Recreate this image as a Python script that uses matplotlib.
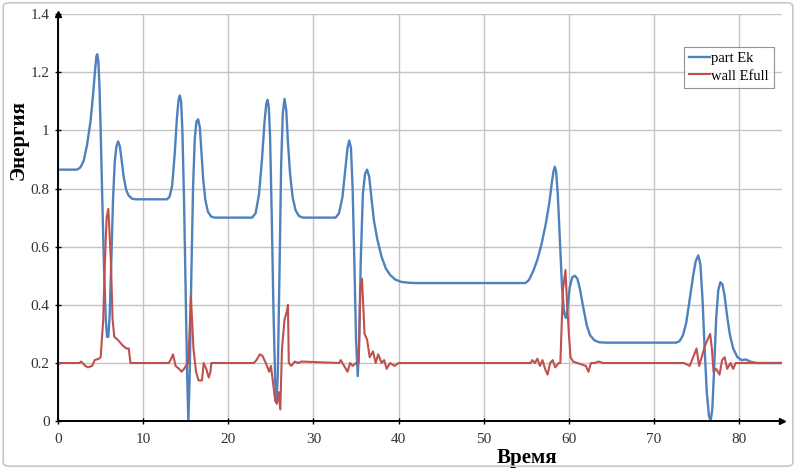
import matplotlib
matplotlib.use("Agg")
import matplotlib.pyplot as plt
from matplotlib.patches import FancyBboxPatch

# part Ek (синяя кривая)
t_part = [0, 2.2, 2.6, 3.0, 3.4, 3.8, 4.1, 4.35, 4.5, 4.6, 4.72, 4.85, 5.0, 5.2, 5.4,
          5.6, 5.75, 5.9, 6.05, 6.25, 6.45, 6.65, 6.85, 7.05, 7.25, 7.45, 7.7, 8.0,
          8.3, 8.7, 9.1,
          12.8, 13.1, 13.4, 13.7, 13.95, 14.15, 14.3, 14.45, 14.6, 14.8, 15.0, 15.15,
          15.3, 15.45, 15.65, 15.85, 16.05, 16.25, 16.45, 16.65, 16.85, 17.05, 17.3,
          17.6, 18.0, 18.4,
          22.8, 23.2, 23.6, 23.95, 24.25, 24.45, 24.6, 24.75, 24.9, 25.1, 25.3, 25.5,
          25.65, 25.8, 26.0, 26.2, 26.4, 26.6, 26.8, 27.0, 27.25, 27.55, 27.9, 28.3,
          28.8,
          32.6, 33.0, 33.4, 33.75, 34.0, 34.2, 34.4, 34.6, 34.8, 35.0, 35.2, 35.35,
          35.55, 35.8, 36.05, 36.3, 36.55, 36.8, 37.1, 37.5, 38.0, 38.5, 39.0, 39.6,
          40.3, 41.2, 42.0,
          54.9, 55.3, 55.8, 56.3, 56.8, 57.3, 57.7, 58.0, 58.2, 58.35, 58.5, 58.7,
          58.95, 59.2, 59.45, 59.65, 59.85, 60.1, 60.4, 60.7, 61.0, 61.3, 61.7, 62.1,
          62.5, 63.0, 63.6, 64.5,
          72.6, 73.0, 73.4, 73.8, 74.2, 74.6, 74.9, 75.2, 75.45, 75.7, 75.95, 76.2,
          76.45, 76.65, 76.85, 77.05, 77.3, 77.55, 77.8, 78.05, 78.3, 78.6, 78.9,
          79.3, 79.8, 80.3, 80.8, 81.3, 82.0, 85.0]
e_part = [0.865, 0.865, 0.872, 0.895, 0.95, 1.03, 1.12, 1.21, 1.255, 1.262, 1.24, 1.16,
          1.0, 0.75, 0.52, 0.35, 0.29, 0.29, 0.36, 0.55, 0.76, 0.89, 0.945, 0.962,
          0.945, 0.90, 0.84, 0.795, 0.775, 0.765, 0.763,
          0.763, 0.772, 0.81, 0.92, 1.04, 1.105, 1.12, 1.10, 1.0, 0.75, 0.42, 0.17,
          0.0, 0.15, 0.5, 0.8, 0.97, 1.03, 1.038, 1.01, 0.92, 0.83, 0.76, 0.72,
          0.703, 0.70,
          0.70, 0.715, 0.78, 0.90, 1.03, 1.09, 1.105, 1.08, 0.98, 0.70, 0.38, 0.14,
          0.07, 0.15, 0.50, 0.88, 1.06, 1.108, 1.07, 0.96, 0.85, 0.77, 0.725, 0.705,
          0.70,
          0.70, 0.715, 0.77, 0.87, 0.94, 0.965, 0.94, 0.80, 0.55, 0.28, 0.155, 0.25,
          0.55, 0.78, 0.85, 0.865, 0.84, 0.77, 0.69, 0.625, 0.565, 0.525, 0.503,
          0.487, 0.479, 0.476, 0.475,
          0.475, 0.485, 0.515, 0.555, 0.61, 0.68, 0.75, 0.82, 0.86, 0.875, 0.86, 0.78,
          0.62, 0.46, 0.37, 0.355, 0.39, 0.46, 0.495, 0.50, 0.49, 0.455, 0.39, 0.33,
          0.295, 0.278, 0.271, 0.27,
          0.27, 0.275, 0.295, 0.34, 0.42, 0.50, 0.55, 0.57, 0.54, 0.42, 0.25, 0.10,
          0.02, 0.0, 0.04, 0.17, 0.35, 0.45, 0.478, 0.47, 0.43, 0.36, 0.30, 0.25,
          0.22, 0.21, 0.212, 0.205, 0.2, 0.2]

# wall Efull (красная кривая)
t_wall = [0, 2.5, 2.7, 3.2, 3.5, 4.0, 4.3, 4.8, 5.0, 5.3, 5.5, 5.7, 5.9, 6.2, 6.4,
          6.6, 7.0, 7.3, 7.6, 8.0, 8.3, 8.5, 13.0, 13.2, 13.5, 13.8, 14.2, 14.5,
          14.8, 15.0, 15.3, 15.6, 15.9, 16.2, 16.5, 16.9, 17.1, 17.4, 17.7, 17.9,
          18.0, 23.0, 23.3, 23.7, 24.0, 24.4, 24.8, 25.0, 25.3, 25.5, 25.7, 25.9,
          26.1, 26.3, 26.6, 26.9, 27.0, 27.1, 27.4, 27.8, 28.2, 28.6, 33.0, 33.2,
          33.6, 34.0, 34.3, 34.6, 35.0, 35.3, 35.5, 35.7, 36.0, 36.3, 36.6, 37.0,
          37.3, 37.6, 38.0, 38.3, 38.6, 39.0, 39.5, 40.0, 55.5, 55.7, 56.0, 56.3,
          56.6, 56.9, 57.2, 57.5, 57.8, 58.1, 58.4, 58.8, 59.0, 59.3, 59.6, 59.8,
          60.0, 60.2, 60.5, 61.0, 61.5, 62.0, 62.3, 62.6, 63.0, 63.5, 64.0, 73.5,
          74.2, 74.6, 75.0, 75.3, 75.6, 76.0, 76.3, 76.6, 76.8, 77.0, 77.3, 77.7,
          78.0, 78.3, 78.6, 79.0, 79.3, 79.6, 80.0, 85.0]
e_wall = [0.2, 0.2, 0.205, 0.19, 0.185, 0.19, 0.21, 0.215, 0.22, 0.35, 0.55, 0.70,
          0.73, 0.55, 0.35, 0.29, 0.28, 0.27, 0.26, 0.25, 0.25, 0.2, 0.2, 0.21, 0.23,
          0.19, 0.18, 0.17, 0.18, 0.19, 0.20, 0.43, 0.25, 0.17, 0.14, 0.14, 0.20,
          0.18, 0.15, 0.17, 0.2, 0.2, 0.21, 0.23, 0.225, 0.20, 0.17, 0.19, 0.12,
          0.07, 0.06, 0.10, 0.04, 0.25, 0.35, 0.38, 0.40, 0.20, 0.19, 0.205, 0.20,
          0.205, 0.2, 0.21, 0.19, 0.17, 0.20, 0.19, 0.20, 0.20, 0.45, 0.49, 0.30,
          0.28, 0.22, 0.24, 0.20, 0.23, 0.20, 0.21, 0.18, 0.20, 0.19, 0.2, 0.2,
          0.21, 0.20, 0.215, 0.19, 0.21, 0.18, 0.16, 0.20, 0.21, 0.185, 0.20, 0.2,
          0.45, 0.52, 0.40, 0.30, 0.22, 0.205, 0.2, 0.195, 0.19, 0.17, 0.20, 0.2,
          0.205, 0.2, 0.2, 0.19, 0.22, 0.25, 0.19, 0.22, 0.26, 0.28, 0.30, 0.25,
          0.17, 0.18, 0.16, 0.21, 0.22, 0.18, 0.20, 0.18, 0.20, 0.2, 0.2]

x_ticks = [0, 10, 20, 30, 40, 50, 60, 70, 80]
y_ticks = [0, 0.2, 0.4, 0.6, 0.8, 1.0, 1.2, 1.4]
y_labels = ["0", "0.2", "0.4", "0.6", "0.8", "1", "1.2", "1.4"]

plt.rcParams["font.family"] = ["Liberation Serif", "DejaVu Serif"]

fig = plt.figure(figsize=(7.96, 4.69), dpi=100)
fig.patches.append(FancyBboxPatch((0.004, 0.006), 0.992, 0.988,
                                  boxstyle="round,pad=0,rounding_size=0.008",
                                  transform=fig.transFigure, fill=False,
                                  edgecolor="#c8c8c8", linewidth=1.2))
ax = fig.add_axes([0.073, 0.102, 0.909, 0.868])

ax.plot(t_part, e_part, color="#4F81BD", lw=1.7, label="part Ek")
ax.plot(t_wall, e_wall, color="#C0504D", lw=1.5, label="wall Efull")

ax.set_xlim(0, 85)
ax.set_ylim(0, 1.4)
ax.set_xticks(x_ticks)
ax.set_yticks(y_ticks)
ax.set_yticklabels(y_labels)
ax.grid(True, color="#c4c4c4", lw=1.0)
ax.set_axisbelow(True)

for s in ["top", "right"]:
    ax.spines[s].set_visible(False)
for s in ["left", "bottom"]:
    ax.spines[s].set_linewidth(1.4)
    ax.spines[s].set_color("black")
ax.tick_params(direction="inout", length=5, width=1, labelsize=11,
               labelcolor="#333333")
ax.tick_params(axis="x", pad=6)

# стрелки на концах осей
ax.plot([0], [1], marker="^", color="black", ms=4, transform=ax.transAxes, clip_on=False)
ax.plot([1], [0], marker=">", color="black", ms=4, transform=ax.transAxes, clip_on=False)

ax.set_ylabel("Энергия", fontsize=15, fontweight="bold")
ax.yaxis.set_label_coords(-0.041, 0.69)
ax.set_xlabel("Время", fontsize=15, fontweight="bold")
ax.xaxis.set_label_coords(0.648, -0.065)

leg = ax.legend(loc="upper left", bbox_to_anchor=(0.865, 0.92), fontsize=10.5,
                frameon=True, fancybox=False, edgecolor="#777777",
                handlelength=1.4, handletextpad=0.1, borderpad=0.35,
                labelspacing=0.3, borderaxespad=0)
leg.get_frame().set_linewidth(0.8)

fig.savefig("out.png", dpi=100)
